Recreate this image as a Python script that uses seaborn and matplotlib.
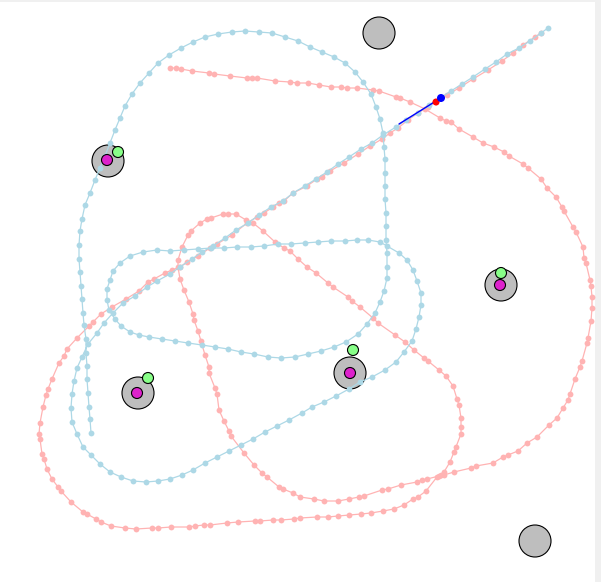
import matplotlib
matplotlib.use("Agg")
import matplotlib.pyplot as plt
import matplotlib.patches as mpatches
import seaborn as sns
import pandas as pd

# path samples (image pixel coords, y down)
blue_x = [91, 90, 89, 88, 87, 87, 86, 86, 84, 83, 82, 81, 80, 79, 79, 80, 82, 85, 90, 95,
          100, 105, 110, 115, 120, 125, 132, 140, 149, 158, 169, 181, 193, 205, 218, 232, 245, 259, 272, 285,
          298, 310, 322, 334, 345, 355, 363, 371, 376, 380, 383, 384, 385, 385, 385, 385, 386, 386, 386, 387,
          387, 387, 384, 380, 375, 367, 358, 346, 334, 321, 308, 295, 281, 268, 254, 241, 228, 215, 202, 188,
          175, 162, 149, 139, 130, 121, 115, 109, 107, 107, 110, 113, 120, 130, 143, 157, 170, 184, 198, 211,
          224, 237, 251, 264, 278, 291, 305, 318, 331, 345, 357, 368, 380, 387, 399, 407, 413, 417, 421, 421,
          419, 416, 412, 404, 396, 385, 372, 360, 349, 336, 324, 312, 302, 289, 277, 265, 253, 241, 229, 217,
          205, 193, 182, 170, 158, 146, 133, 121, 110, 100, 91, 83, 77, 72, 71, 72, 74, 77, 82, 88,
          97, 104, 113, 123, 135, 147, 157, 170, 180, 192, 202, 213, 225, 236, 248, 259, 271, 283, 293, 305,
          316, 327, 338, 349, 361, 372, 383, 396, 406, 418, 429, 440, 451, 462, 473, 485, 496, 507, 519, 530,
          541, 548]
blue_y = [433, 419, 407, 393, 379, 366, 353, 339, 325, 313, 299, 286, 272, 259, 245, 231, 219, 205, 193, 180,
          168, 156, 143, 130, 118, 106, 94, 83, 73, 63, 55, 48, 42, 37, 34, 32, 31, 32, 33, 37,
          41, 47, 52, 57, 63, 72, 82, 94, 107, 119, 133, 147, 159, 173, 186, 199, 213, 226, 240, 253,
          267, 278, 291, 302, 313, 324, 334, 342, 347, 351, 354, 357, 358, 357, 354, 352, 349, 347, 345, 343,
          341, 339, 337, 335, 332, 326, 319, 310, 300, 289, 280, 271, 263, 256, 252, 250, 251, 250, 249, 248,
          248, 247, 247, 246, 244, 244, 243, 242, 241, 241, 240, 240, 242, 246, 253, 260, 270, 281, 293, 305,
          317, 329, 341, 352, 362, 370, 377, 382, 389, 396, 402, 407, 413, 420, 426, 432, 439, 445, 451, 457,
          463, 470, 475, 479, 481, 482, 481, 477, 472, 464, 455, 447, 434, 422, 408, 394, 381, 368, 357, 344,
          333, 323, 313, 303, 296, 287, 281, 274, 267, 259, 252, 246, 238, 230, 223, 215, 207, 201, 193, 186,
          179, 172, 164, 157, 149, 143, 135, 127, 120, 113, 105, 98, 91, 84, 77, 69, 62, 54, 48, 41,
          33, 28]

pink_x = [170, 176, 181, 192, 209, 214, 230, 247, 252, 257, 275, 290, 297, 308, 319, 331, 341, 347, 357, 373,
          379, 396, 400, 410, 425, 440, 446, 451, 459, 473, 483, 494, 504, 509, 523, 528, 541, 547, 556, 562,
          564, 573, 576, 583, 584, 586, 590, 591, 592, 592, 591, 588, 587, 582, 580, 575, 570, 568, 563, 557,
          549, 537, 527, 518, 508, 503, 493, 476, 471, 454, 444, 439, 427, 422, 417, 401, 388, 382, 364, 359,
          349, 338, 324, 314, 300, 293, 283, 279, 267, 262, 254, 244, 231, 229, 224, 219, 217, 215, 209, 209,
          205, 201, 198, 194, 193, 189, 184, 180, 178, 178, 182, 188, 191, 200, 207, 211, 223, 228, 236, 246,
          253, 263, 275, 284, 290, 298, 307, 316, 328, 333, 348, 352, 360, 373, 378, 395, 405, 414, 424, 428,
          439, 446, 453, 457, 459, 461, 461, 461, 456, 454, 450, 444, 441, 437, 426, 418, 413, 404, 394, 383,
          371, 361, 349, 338, 328, 317, 300, 294, 281, 273, 260, 255, 238, 227, 210, 204, 195, 189, 171, 158,
          152, 136, 125, 111, 101, 96, 87, 83, 71, 61, 58, 52, 47, 44, 42, 40, 39, 40, 43, 46,
          48, 52, 59, 64, 67, 77, 89, 93, 101, 112, 126, 139, 148, 154, 165, 172, 180, 187, 198, 210,
          217, 232, 247, 257, 264, 273, 279, 284, 293, 307, 317, 322, 330, 344, 358, 370, 382, 390, 398, 408,
          418, 428, 436, 447, 459, 473, 488, 502, 513, 523, 535, 541]
pink_y = [68, 68, 69, 71, 73, 74, 76, 78, 78, 78, 81, 82, 83, 83, 85, 87, 87, 88, 88, 90,
          91, 97, 98, 102, 109, 118, 121, 122, 129, 137, 143, 147, 152, 156, 164, 168, 179, 188, 197, 207,
          211, 227, 232, 247, 258, 263, 280, 286, 297, 308, 321, 338, 343, 361, 367, 379, 394, 400, 408, 418,
          425, 437, 443, 451, 455, 457, 463, 466, 468, 472, 475, 476, 479, 480, 482, 485, 489, 490, 496, 497,
          499, 501, 501, 499, 497, 493, 489, 487, 477, 473, 465, 453, 436, 431, 421, 410, 394, 388, 373, 367,
          355, 341, 331, 320, 314, 302, 290, 279, 267, 260, 247, 235, 231, 223, 219, 218, 214, 214, 214, 220,
          223, 231, 242, 248, 251, 259, 267, 273, 283, 287, 297, 301, 307, 318, 323, 335, 342, 350, 358, 361,
          370, 376, 386, 399, 405, 418, 427, 434, 447, 452, 462, 472, 475, 477, 491, 497, 499, 505, 509, 511,
          513, 514, 515, 516, 517, 517, 518, 519, 520, 520, 521, 521, 522, 523, 525, 525, 526, 527, 527, 528,
          528, 529, 528, 526, 522, 519, 514, 512, 502, 491, 487, 479, 469, 459, 454, 439, 434, 423, 407, 395,
          389, 379, 363, 356, 349, 338, 326, 322, 314, 307, 299, 291, 282, 279, 273, 270, 267, 262, 256, 248,
          244, 235, 223, 217, 213, 207, 203, 201, 193, 186, 179, 177, 171, 163, 154, 146, 139, 133, 128, 120,
          113, 107, 102, 95, 88, 79, 70, 61, 53, 45, 37, 33]

obstacle_x = [379, 108, 501, 350, 138, 535]
obstacle_y = [33, 161, 285, 373, 393, 541]
magenta_x = [107, 500, 350, 137]
magenta_y = [160, 285, 373, 393]
green_x = [118, 501, 353, 148]
green_y = [152, 273, 350, 378]
heading_x = [399, 436]
heading_y = [124, 101]

sns.set_style("white")
fig = plt.figure(figsize=(6.01, 5.82), dpi=100, facecolor="#f0f0f0")
ax = fig.add_axes([0, 0, 595 / 601, 580 / 582])
ax.set_facecolor("white")

# obstacles sit under the trajectories
for cx, cy in zip(obstacle_x, obstacle_y):
    ax.add_patch(mpatches.Circle((cx, cy), 16, facecolor="#bebebe", edgecolor="black", lw=0.8, zorder=1))

pink = pd.DataFrame({"x": pink_x, "y": pink_y})
blue = pd.DataFrame({"x": blue_x, "y": blue_y})
sns.lineplot(data=pink, x="x", y="y", sort=False, estimator=None, color="#ffb3b3",
             lw=0.9, marker="o", markersize=4.2, markeredgewidth=0, ax=ax, zorder=2)
sns.lineplot(data=blue, x="x", y="y", sort=False, estimator=None, color="#add8e6",
             lw=0.9, marker="o", markersize=4.2, markeredgewidth=0, ax=ax, zorder=2)

for cx, cy in zip(magenta_x, magenta_y):
    ax.add_patch(mpatches.Circle((cx, cy), 5.5, facecolor="#dd22cc", edgecolor="black", lw=0.8, zorder=4))
for cx, cy in zip(green_x, green_y):
    ax.add_patch(mpatches.Circle((cx, cy), 5.5, facecolor="#88ff88", edgecolor="black", lw=0.8, zorder=4))

ax.plot(heading_x, heading_y, color="blue", lw=1.0, zorder=5)
ax.add_patch(mpatches.Circle((436, 102), 3.5, facecolor="red", edgecolor="none", zorder=6))
ax.add_patch(mpatches.Circle((441, 98), 4, facecolor="blue", edgecolor="none", zorder=6))

ax.set_xlim(0, 595)
ax.set_ylim(582, 2)
ax.set_xticks([])
ax.set_yticks([])
ax.set_xlabel("")
ax.set_ylabel("")
for sp in ax.spines.values():
    sp.set_visible(False)

fig.savefig("out.png", dpi=100, facecolor=fig.get_facecolor())
